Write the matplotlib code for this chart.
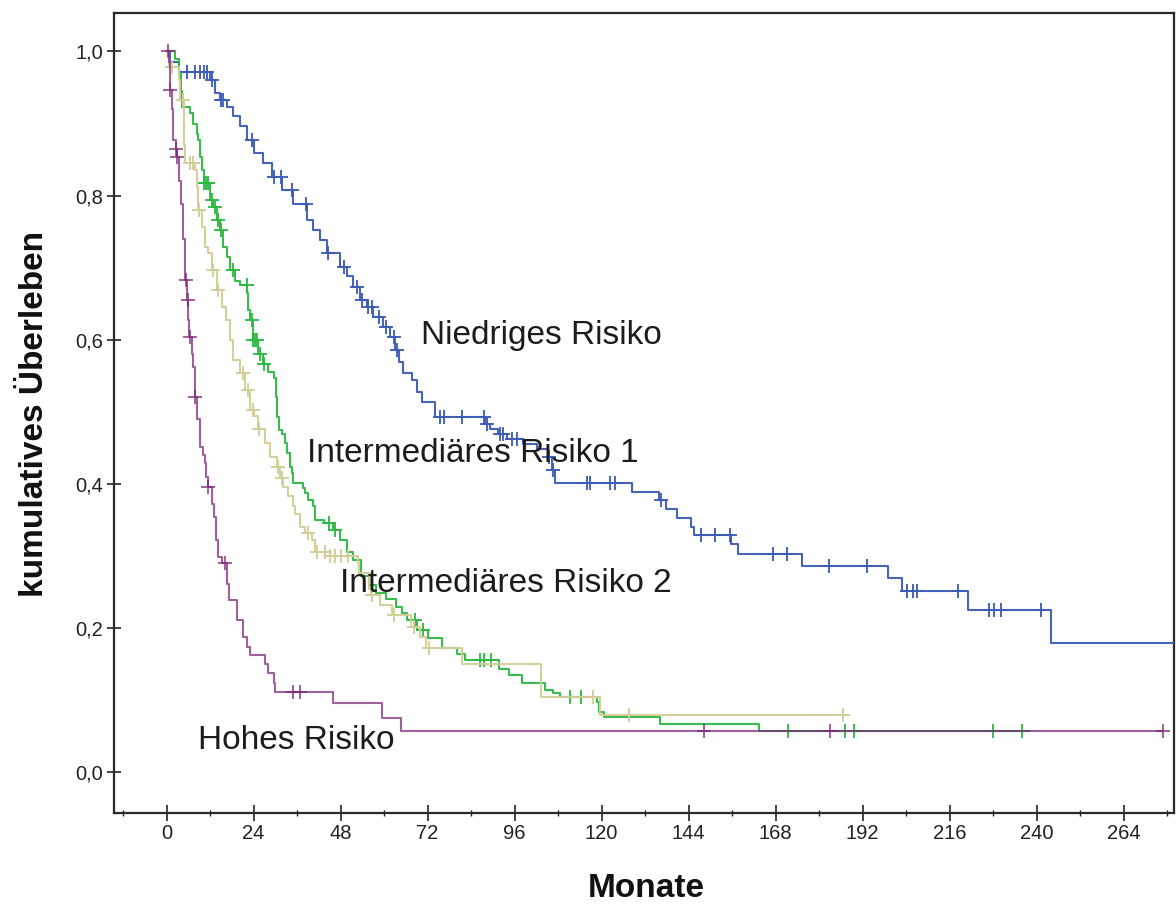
import numpy as np
import matplotlib
matplotlib.use("Agg")
import matplotlib.pyplot as plt
from matplotlib.ticker import MultipleLocator, FuncFormatter

plt.rcParams['font.family'] = ['Liberation Sans', 'DejaVu Sans']

# Kaplan-Meier estimates per risk group: event times (months) and survival after each step
niedrig_t = [0, 1.0, 3.5, 12.0, 13.4, 14.8, 16.6, 18.4, 20.3, 22.1, 24.0, 26.7, 29.0, 31.8,
             35.0, 38.7, 40.5, 42.3, 44.2, 47.9, 49.7, 51.5, 53.4, 55.2, 57.0, 59.8, 61.7,
             63.0, 64.2, 65.3, 67.6, 69.0, 70.5, 74.1, 87.9, 89.2, 91.5, 94.0, 98.4, 102.1,
             105.3, 106.3, 107.2, 128.3, 135.8, 137.7, 140.8, 144.7, 145.5, 155.6, 157.5,
             175.4, 199.0, 203.0, 221.2, 244.0]
niedrig_s = [1.0, 0.985, 0.972, 0.960, 0.942, 0.933, 0.923, 0.910, 0.896, 0.877, 0.859, 0.845,
             0.826, 0.808, 0.789, 0.766, 0.752, 0.739, 0.720, 0.701, 0.688, 0.674, 0.655,
             0.646, 0.632, 0.618, 0.604, 0.586, 0.570, 0.554, 0.544, 0.528, 0.514, 0.493,
             0.484, 0.477, 0.470, 0.462, 0.455, 0.448, 0.438, 0.420, 0.401, 0.389, 0.378,
             0.365, 0.353, 0.341, 0.329, 0.317, 0.303, 0.287, 0.270, 0.252, 0.225, 0.180]
niedrig_end = 290.0
niedrig_cens = [5.6, 7.9, 9.2, 10.2, 11.1, 12.5, 15.0, 15.7, 23.5, 29.5, 31.5, 34.5, 38.5,
                44.5, 49.0, 52.5, 54.0, 55.5, 56.6, 58.5, 60.6, 62.7, 63.7, 75.4, 76.4, 81.4,
                87.6, 88.3, 92.0, 92.9, 95.2, 96.6, 105.5, 106.5, 115.9, 116.8, 122.3, 123.7,
                136.5, 147.4, 151.2, 155.3, 167.2, 171.2, 182.8, 193.2, 204.2, 206.0, 207.0,
                218.2, 227.0, 228.2, 230.1, 241.2]

inter1_t = [0, 2.3, 3.5, 4.0, 4.3, 6.5, 7.4, 8.3, 8.8, 9.2, 9.7, 10.2, 12.0, 12.9, 14.0, 14.8,
            15.7, 16.6, 17.5, 18.9, 20.3, 22.3, 22.6, 23.0, 23.9, 25.3, 26.7, 28.1, 29.5,
            30.2, 30.6, 30.9, 31.8, 32.7, 33.2, 34.1, 34.5, 35.0, 37.7, 38.2, 39.1, 40.5,
            41.0, 43.3, 46.0, 47.9, 49.7, 51.5, 53.7, 55.8, 57.9, 60.5, 63.2, 65.0, 66.4,
            69.0, 72.2, 75.9, 80.1, 82.2, 91.7, 94.4, 98.1, 104.4, 106.5, 108.6, 118.6,
            119.2, 120.7, 136.0, 163.3]
inter1_s = [1.0, 0.990, 0.970, 0.945, 0.923, 0.915, 0.900, 0.886, 0.877, 0.854, 0.835, 0.817,
            0.794, 0.785, 0.766, 0.752, 0.729, 0.715, 0.697, 0.681, 0.676, 0.665, 0.641,
            0.628, 0.600, 0.581, 0.567, 0.556, 0.547, 0.521, 0.493, 0.475, 0.470, 0.457,
            0.443, 0.424, 0.415, 0.401, 0.394, 0.387, 0.378, 0.369, 0.350, 0.346, 0.336,
            0.322, 0.306, 0.295, 0.272, 0.260, 0.249, 0.240, 0.230, 0.221, 0.212, 0.198,
            0.186, 0.172, 0.165, 0.156, 0.144, 0.135, 0.124, 0.114, 0.110, 0.105, 0.098,
            0.084, 0.077, 0.067, 0.058]
inter1_end = 238.0
inter1_cens = [10.4, 11.0, 11.5, 12.5, 13.4, 14.3, 15.0, 18.2, 22.1, 23.5, 23.9, 24.4, 24.9,
               25.8, 26.9, 44.7, 46.5, 68.5, 70.6, 86.5, 87.5, 89.6, 111.3, 114.4, 171.5,
               187.2, 189.5, 228.0, 236.0]

inter2_t = [0, 0.8, 3.3, 3.8, 4.8, 5.0, 7.8, 8.3, 8.8, 9.7, 10.6, 11.5, 12.5, 13.8, 15.2, 16.5,
            17.5, 18.4, 20.3, 21.7, 23.0, 24.0, 25.3, 27.2, 28.6, 30.4, 31.2, 32.2, 33.6,
            35.0, 35.4, 36.8, 38.2, 40.0, 41.0, 45.0, 52.7, 53.2, 55.8, 56.4, 59.0, 62.1,
            67.5, 70.0, 71.7, 81.6, 103.3, 119.7]
inter2_s = [1.0, 0.979, 0.960, 0.933, 0.870, 0.845, 0.835, 0.812, 0.780, 0.757, 0.729, 0.720,
            0.697, 0.669, 0.646, 0.628, 0.600, 0.572, 0.554, 0.531, 0.503, 0.495, 0.477,
            0.457, 0.438, 0.424, 0.408, 0.396, 0.383, 0.369, 0.359, 0.341, 0.332, 0.322,
            0.306, 0.300, 0.290, 0.276, 0.255, 0.246, 0.232, 0.218, 0.202, 0.188, 0.172,
            0.150, 0.105, 0.080]
inter2_end = 186.5
inter2_cens = [1.5, 4.6, 6.5, 7.4, 9.0, 12.9, 14.3, 21.2, 22.6, 23.9, 25.6, 30.8, 31.8, 39.1,
               41.6, 43.6, 45.0, 46.4, 48.2, 50.0, 56.8, 62.8, 68.2, 72.3, 117.6, 127.6, 186.5]

hoch_t = [0, 0.6, 0.9, 1.6, 1.9, 2.5, 2.9, 3.5, 4.0, 4.5, 5.1, 5.6, 6.0, 6.3, 6.9, 7.4, 7.8,
          8.4, 9.2, 10.0, 10.6, 11.0, 11.4, 12.5, 13.0, 13.6, 14.3, 15.2, 16.6, 17.1, 19.4,
          21.2, 22.1, 23.0, 27.2, 28.1, 29.5, 29.9, 46.0, 59.5, 64.8]
hoch_s = [1.0, 0.986, 0.947, 0.920, 0.877, 0.865, 0.854, 0.820, 0.789, 0.740, 0.683, 0.655,
          0.628, 0.604, 0.580, 0.563, 0.521, 0.490, 0.452, 0.440, 0.429, 0.410, 0.396,
          0.373, 0.355, 0.322, 0.299, 0.290, 0.262, 0.239, 0.212, 0.188, 0.174, 0.163,
          0.151, 0.138, 0.124, 0.112, 0.096, 0.075, 0.058]
hoch_end = 275.0
hoch_cens = [0.3, 1.0, 2.6, 3.0, 5.3, 5.8, 6.5, 7.9, 11.5, 16.1, 35.0, 36.8, 148.2, 183.0, 275.0]

labels = ["Niedriges Risiko", "Intermediäres Risiko 1", "Intermediäres Risiko 2", "Hohes Risiko"]
colors = ["#3d5cb8", "#2eb843", "#d3cd97", "#7a2478"]
alphas = [0.95, 0.95, 0.95, 0.72]
label_pos = [(70.2, 0.594), (38.8, 0.431), (47.9, 0.251), (8.7, 0.033)]

series = [
    (niedrig_t, niedrig_s, niedrig_end, niedrig_cens),
    (inter1_t, inter1_s, inter1_end, inter1_cens),
    (inter2_t, inter2_s, inter2_end, inter2_cens),
    (hoch_t, hoch_s, hoch_end, hoch_cens),
]

fig = plt.figure(figsize=(11.76, 9.06), dpi=100)
fig.patch.set_facecolor("white")
ax = fig.add_axes([114 / 1176, (906 - 813) / 906, (1174 - 114) / 1176, (813 - 12.7) / 906])

draw_order = [0, 2, 1, 3]
for i in draw_order:
    t, s, t_end, cens = series[i]
    t = np.asarray(t, dtype=float)
    s = np.asarray(s, dtype=float)
    xs = np.append(t, t_end)
    ys = np.append(s, s[-1])
    ax.step(xs, ys, where="post", color=colors[i], lw=1.5, alpha=alphas[i], zorder=3 + i)
    c = np.asarray(cens, dtype=float)
    cs = s[np.searchsorted(t, c, side="right") - 1]
    ax.plot(c, cs, linestyle="none", marker="+", ms=9.5, mew=1.4, color=colors[i],
            alpha=alphas[i], zorder=3 + i)

for lab, (lx, ly) in zip(labels, label_pos):
    ax.text(lx, ly, lab, fontsize=24, ha="left", va="baseline", color="#1c1c1c", zorder=10)

ax.set_xlim(-14.5, 277.9)
ax.set_ylim(-0.0562, 1.0538)

ax.set_xticks(np.arange(0, 265, 24))
ax.xaxis.set_minor_locator(MultipleLocator(12))
ax.set_yticks([0.0, 0.2, 0.4, 0.6, 0.8, 1.0])
ax.yaxis.set_major_formatter(FuncFormatter(lambda v, p: f"{v:.1f}".replace(".", ",")))

ax.tick_params(axis="x", which="major", direction="inout", length=11.5, width=1.2,
               labelsize=14.5, pad=2.5, colors="#222222")
ax.tick_params(axis="x", which="minor", direction="inout", length=5, width=1.0,
               colors="#222222")
ax.tick_params(axis="y", which="major", direction="inout", length=10, width=1.2,
               labelsize=14.5, pad=3, colors="#222222")

for sp in ax.spines.values():
    sp.set_linewidth(1.6)
    sp.set_color("#2a2a2a")

fig.text(646 / 1176, 1 - 897 / 906, "Monate", fontsize=24, fontweight="bold",
         ha="center", va="baseline", color="#111111")
fig.text(35 / 1176, 1 - 414 / 906, "kumulatives Überleben", fontsize=24, fontweight="bold",
         rotation=90, ha="center", va="center", color="#111111")

fig.savefig("out.png", dpi=100, facecolor="white")
